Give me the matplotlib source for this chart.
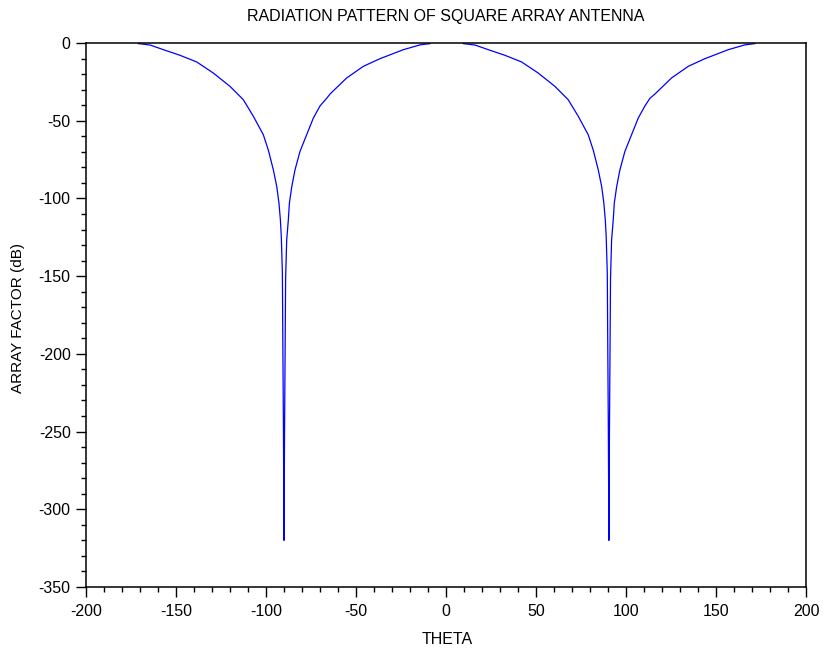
import matplotlib
matplotlib.use("Agg")
import matplotlib.pyplot as plt
from matplotlib.ticker import MultipleLocator

# ===============================
# DATA
# ===============================

# left lobe, theta in degrees
theta_left = [-170.9, -164.4, -157, -147.8, -138.5, -129.3, -120, -112.6, -107,
              -101.5, -98.7, -95.9, -94, -92.8, -92, -91.5, -90.9, -90.3, -90,
              -89.7, -89.1, -88.5, -87.6, -87, -85.7, -83.9, -81.1, -77.4, -73.7,
              -70, -66.3, -64.4, -55.2, -45.9, -36.7, -23.7, -14.4, -8.9]
af_left = [-0.4, -1.3, -4.3, -7.9, -12.2, -19.3, -27.9, -36.5, -47.2,
           -59, -68.9, -81.7, -92.5, -103, -113.9, -124.6, -148, -251, -320,
           -251, -151.4, -126.8, -113.9, -103, -92.5, -81.7, -69.7, -59, -48.3,
           -40.5, -35.6, -32.8, -22.5, -15, -10.1, -4.3, -1.2, -0.4]

# right lobe
theta_right = [9.6, 16.1, 23.5, 32.7, 42, 51.2, 60.5, 67.9, 73.5,
               79, 81.8, 84.6, 86.5, 87.7, 88.5, 89, 89.6, 90.2, 90.5,
               90.8, 91.4, 92, 92.9, 93.5, 94.8, 96.6, 99.4, 103.1, 106.8,
               110.5, 113.3, 116.1, 125.3, 134.6, 143.8, 156.8, 166.1, 171.6]
af_right = [-0.4, -1.3, -4.3, -7.9, -12.2, -19.3, -27.9, -36.5, -47.2,
            -59, -68.9, -81.7, -92.5, -103, -113.9, -124.6, -148, -251, -320,
            -251, -151.4, -126.8, -113.9, -103, -92.5, -81.7, -69.7, -59, -48.3,
            -40.5, -35.6, -32.8, -22.5, -15, -10.1, -4.3, -1.2, -0.4]

x_ticks = [-200, -150, -100, -50, 0, 50, 100, 150, 200]
y_ticks = [0, -50, -100, -150, -200, -250, -300, -350]

# ===============================
# FIGURE
# ===============================

plt.rcParams["font.family"] = ["Liberation Sans", "DejaVu Sans"]
plt.rcParams["axes.unicode_minus"] = False

fig = plt.figure(figsize=(8.25, 6.55), dpi=100)
ax = fig.add_axes([86 / 825, 1 - 587 / 655, 720 / 825, 544 / 655])

ax.plot(theta_left, af_left, color="#0000ff", linewidth=0.9)
ax.plot(theta_right, af_right, color="#0000ff", linewidth=0.9)

ax.set_xlim(-200, 200)
ax.set_ylim(-350, 0)
ax.set_xticks(x_ticks)
ax.set_yticks(y_ticks)
ax.xaxis.set_minor_locator(MultipleLocator(10))
ax.yaxis.set_minor_locator(MultipleLocator(10))

ax.tick_params(axis="both", which="major", direction="out", length=7,
               width=1, labelsize=11.5, colors="black", top=False, right=False)
ax.tick_params(axis="both", which="minor", direction="out", length=3.5,
               width=1, top=False, right=False)
ax.tick_params(axis="x", pad=5)
ax.tick_params(axis="y", pad=4)

for s in ax.spines.values():
    s.set_linewidth(1.1)
    s.set_color("black")

fig.text(446 / 825, 1 - 17 / 655, "RADIATION PATTERN OF SQUARE ARRAY ANTENNA",
         ha="center", va="center", fontsize=11.5)
fig.text(447 / 825, 1 - 640 / 655, "THETA", ha="center", va="center", fontsize=11.5)
fig.text(18 / 825, 1 - 318 / 655, "ARRAY FACTOR (dB)", ha="center", va="center",
         rotation=90, fontsize=11)

fig.savefig("out.png", dpi=100)
